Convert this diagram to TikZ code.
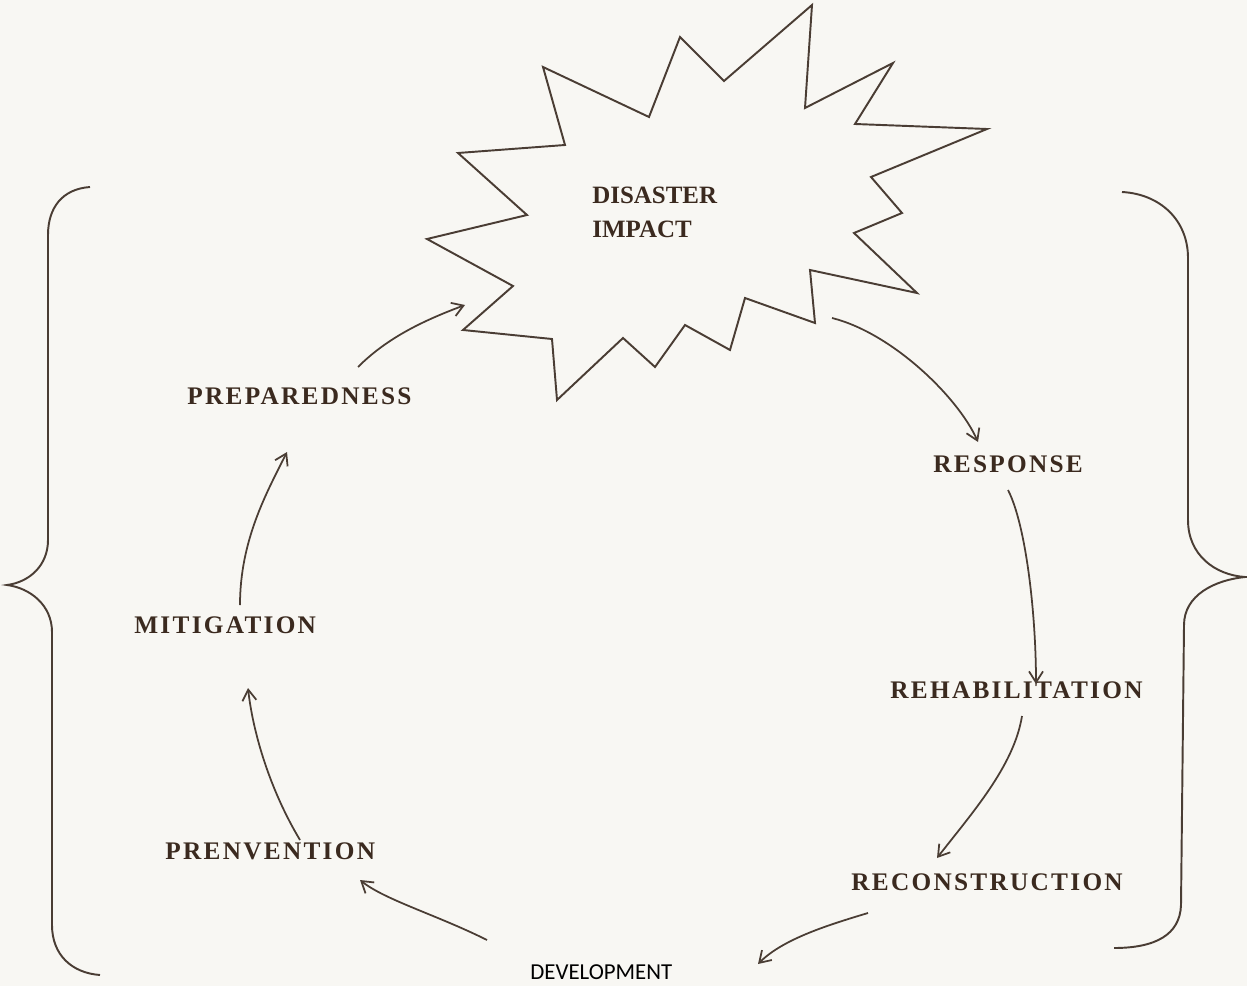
\documentclass[tikz,border=0pt]{standalone}
\usepackage{fontspec}
\setmainfont{Liberation Serif}
\newfontfamily\labfont{Liberation Serif}[LetterSpace=9]
\newfontfamily\plainserif{Liberation Serif}
\newfontfamily\devfont{Carlito}
\usetikzlibrary{arrows.meta}
\definecolor{paper}{HTML}{F8F7F3}
\definecolor{txt}{HTML}{3B2A1F}
\definecolor{ln}{HTML}{4A3D34}
\begin{document}
\begin{tikzpicture}[x=0.02cm,y=-0.02cm,
  lab/.style={font={\labfont\bfseries\fontsize{14.4pt}{16pt}\selectfont}, text=txt, inner sep=0pt, anchor=west},
  cyc/.style={draw=ln, line width=1pt, -{Straight Barb[length=2.2mm,width=2.8mm]}},
  outline/.style={draw=ln, line width=1.1pt, line join=miter}]
\fill[paper] (0,0) rectangle (1247,986);
\useasboundingbox (0,0) rectangle (1247,986);

% starburst
\draw[outline] (543,67) -- (649,117) -- (680,37) -- (724,81) -- (812,5) -- (805,108)
  -- (893,63) -- (855,124) -- (987,129) -- (871,177) -- (902,213) -- (854,233)
  -- (917,293) -- (810,270) -- (815,323) -- (745,298) -- (730,350) -- (685,325)
  -- (655,367) -- (623,338) -- (557,400) -- (552,339) -- (463,330) -- (513,286)
  -- (427,239) -- (527,215) -- (458,153) -- (565,145) -- cycle;

\node[anchor=north west, inner sep=0pt, text=txt, align=left,
  font={\plainserif\bfseries\fontsize{14.2pt}{19pt}\selectfont}] (impact) at (592,187) {DISASTER\\IMPACT};

% labels
\node[lab] (prep) at (187,396) {PREPAREDNESS};
\node[lab] (resp) at (933,464) {RESPONSE};
\node[lab] (mit)  at (134,625) {MITIGATION};
\node[lab] (reh)  at (890,690) {REHABILITATION};
\node[lab] (prev) at (165,851) {PRENVENTION};
\node[lab] (rec)  at (851,882) {RECONSTRUCTION};
\node[anchor=west, inner sep=0pt, text=black, font={\devfont\fontsize{13pt}{15pt}\selectfont}] (dev) at (530,972) {DEVELOPMENT};

% arrow end points
\coordinate (p1) at (358,367); \coordinate (b1) at (465,305);
\coordinate (b2) at (832,318); \coordinate (r1) at (978,442);
\coordinate (r2) at (1008,490); \coordinate (h1) at (1036,684);
\coordinate (h2) at (1022,716); \coordinate (c1) at (937,858);
\coordinate (c2) at (868,913); \coordinate (d1) at (758,964);
\coordinate (d2) at (487,940); \coordinate (v1) at (360,880);
\coordinate (v2) at (300,840); \coordinate (m1) at (248,688);
\coordinate (m2) at (240,605); \coordinate (q1) at (287,452);

\draw[cyc] (p1) .. controls +(30,-30) and +(-40,15) .. (b1);
\draw[cyc] (b2) .. controls +(60,15) and +(-20,-45) .. (r1);
\draw[cyc] (r2) .. controls +(18,35) and +(0,-70) .. (h1);
\draw[cyc] (h2) .. controls +(-8,50) and +(35,-45) .. (c1);
\draw[cyc] (c2) .. controls +(-40,12) and +(25,-25) .. (d1);
\draw[cyc] (d2) .. controls +(-50,-25) and +(25,20) .. (v1);
\draw[cyc] (v2) .. controls +(-30,-50) and +(5,45) .. (m1);
\draw[cyc] (m2) .. controls +(0,-65) and +(-20,40) .. (q1);

% braces
\draw[ln, line width=1.1pt] (90,187) .. controls (62,189) and (48,208) .. (48,235)
  -- (48,540) .. controls (48,565) and (30,582) .. (7,585)
  .. controls (30,588) and (52,605) .. (52,632) -- (52,925)
  .. controls (52,955) and (72,973) .. (100,975);
\draw[ln, line width=1.1pt] (1122,192) .. controls (1160,194) and (1188,220) .. (1188,258)
  -- (1188,520) .. controls (1188,555) and (1215,575) .. (1245,577)
  .. controls (1215,580) and (1184,595) .. (1184,625) -- (1181,905)
  .. controls (1180,935) and (1155,948) .. (1114,948);
\end{tikzpicture}
\end{document}
